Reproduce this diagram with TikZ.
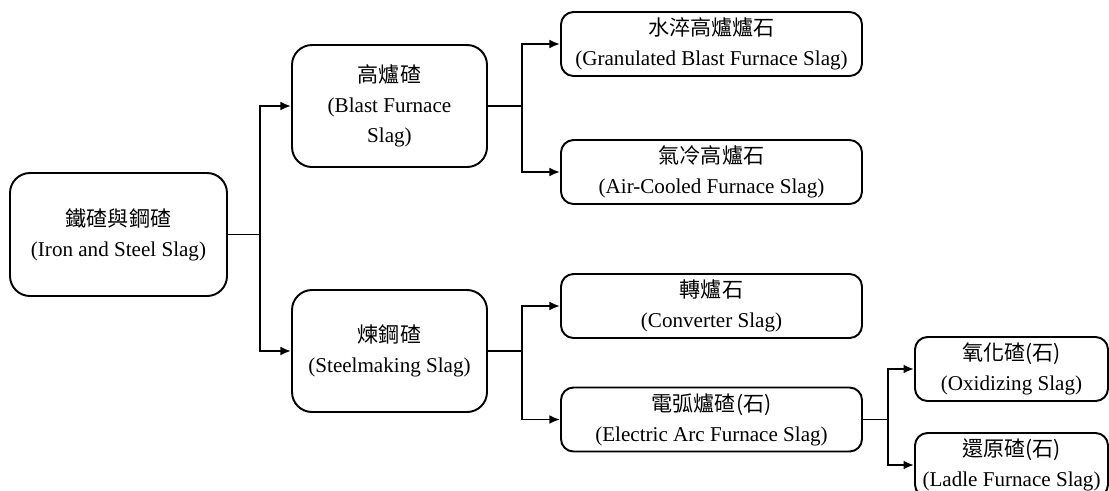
\documentclass[tikz,border=0pt]{standalone}
\usepackage{fontspec}
\setmainfont{Liberation Serif}
\newfontfamily\cjk{Noto Sans CJK TC}
\usetikzlibrary{arrows.meta,positioning}

\begin{document}
\begin{tikzpicture}[
  font=\fontsize{12}{17}\selectfont,
  big/.style={draw,line width=1.1pt,rounded corners=0.4cm,align=center},
  leaf/.style={draw,line width=1.1pt,rounded corners=0.25cm,align=center,minimum height=1.28cm},
  link/.style={line width=1.1pt},
  arr/.style={-{Latex[length=6pt,width=5pt]},line width=1.1pt},
]
  \useasboundingbox (0,0) rectangle (22.18,-9.8);
  \clip (0,0) rectangle (22.18,-9.8);

  \node[big,minimum width=4.34cm,minimum height=2.46cm] (iron) at (2.37,-4.69) {{\cjk 鐵碴與鋼碴}\\(Iron and Steel Slag)};
  \node[big,minimum width=3.9cm,minimum height=2.44cm] (blast) at (7.79,-2.12) {{\cjk 高爐碴}\\(Blast Furnace\\Slag)};
  \node[big,minimum width=3.9cm,minimum height=2.44cm] (steel) at (7.79,-7.02) {{\cjk 煉鋼碴}\\(Steelmaking Slag)};

  \node[leaf,minimum width=6.02cm] (gran) at (14.23,-0.88) {{\cjk 水淬高爐爐石}\\(Granulated Blast Furnace Slag)};
  \node[leaf,minimum width=6.02cm] (air) at (14.23,-3.44) {{\cjk 氣冷高爐石}\\(Air-Cooled Furnace Slag)};
  \node[leaf,minimum width=6.02cm] (conv) at (14.23,-6.12) {{\cjk 轉爐石}\\(Converter Slag)};
  \node[leaf,minimum width=6.02cm] (eaf) at (14.23,-8.39) {{\cjk 電弧爐碴(石)}\\(Electric Arc Furnace Slag)};

  \node[leaf,minimum width=3.86cm] (oxid) at (20.23,-7.38) {{\cjk 氧化碴(石)}\\(Oxidizing Slag)};
  \node[leaf,minimum width=3.86cm] (ladle) at (20.23,-9.3) {{\cjk 還原碴(石)}\\(Ladle Furnace Slag)};

  % branch points
  \coordinate (j1) at (5.2,-4.69);
  \coordinate (j2) at (10.44,-2.12);
  \coordinate (j3) at (10.44,-7.02);
  \coordinate (j4) at (17.76,-8.39);

  \draw[link] (iron.east) -- (j1);
  \draw[arr] (j1) |- (blast.west);
  \draw[arr] (j1) |- (steel.west);

  \draw[link] (blast.east) -- (j2);
  \draw[arr] (j2) |- (gran.west);
  \draw[arr] (j2) |- (air.west);

  \draw[link] (steel.east) -- (j3);
  \draw[arr] (j3) |- (conv.west);
  \draw[arr] (j3) |- (eaf.west);

  \draw[link] (eaf.east) -- (j4);
  \draw[arr] (j4) |- (oxid.west);
  \draw[arr] (j4) |- (ladle.west);
\end{tikzpicture}
\end{document}
